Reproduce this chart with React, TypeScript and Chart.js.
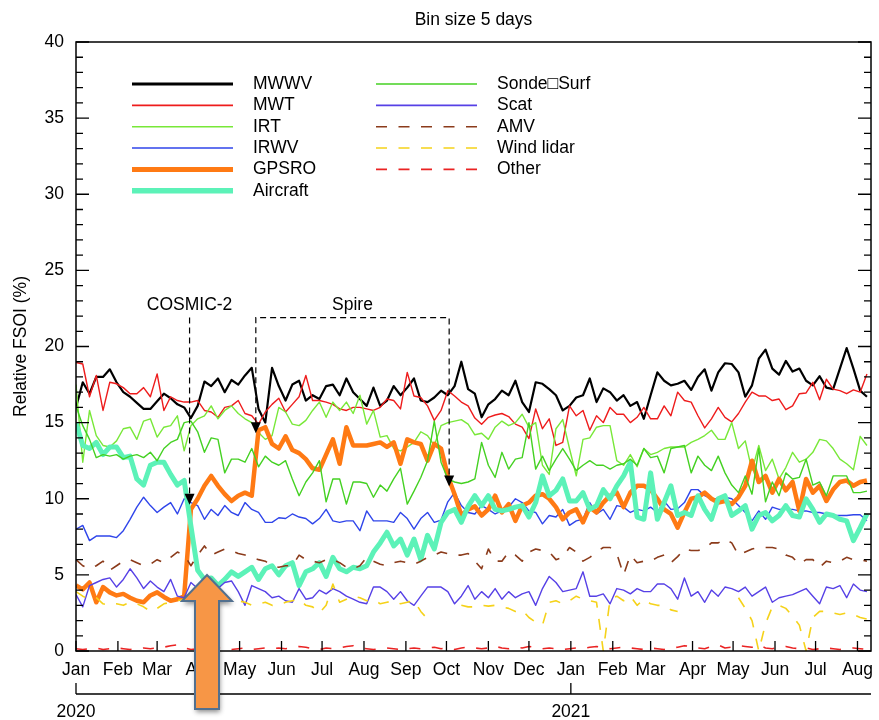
import React, { useEffect, useRef } from "react";
import { Chart, registerables } from "chart.js";

Chart.register(...registerables);

// ---------------- text / axes ----------------
const TITLE = "Bin size 5 days";
const Y_TITLE = "Relative FSOI (%)";
const BIN_DAYS = 5; // one point per 5-day bin, first bin on 1 Jan 2020
const X_MAX_DAY = 588;
const Y_MIN = 0;
const Y_MAX = 40;
const Y_MAJOR = 5;
const Y_MINOR = 1;

const MONTH_LABELS = ["Jan", "Feb", "Mar", "Apr", "May", "Jun", "Jul", "Aug", "Sep", "Oct", "Nov", "Dec",
  "Jan", "Feb", "Mar", "Apr", "May", "Jun", "Jul", "Aug"];
const MONTH_START_DAYS = [0, 31, 60, 91, 121, 152, 182, 213, 244, 274, 305, 335,
  366, 397, 425, 456, 486, 517, 547, 578];
const YEAR_LABELS = ["2020", "2021"];
const YEAR_START_DAYS = [0, 366];

// annotations (days since 1 Jan 2020, FSOI %)
const COSMIC_LABEL = "COSMIC-2";
const COSMIC_DAY = 84;
const SPIRE_LABEL = "Spire";
const SPIRE_DAYS = [133, 276];
const ANNOT_TOP = 21.9;
const ANNOT_TEXT_Y = 22.7;
const COSMIC_TIP = 9.6;
const SPIRE_TIPS = [14.3, 10.8];

// ---------------- series (5-day bins) ----------------
const MWWV = [
  16.0, 17.65, 16.9, 18.0, 18.0, 18.5, 17.65, 17.0, 16.7, 16.3,
  15.9, 15.9, 16.4, 16.9, 16.6, 16.2, 16.0, 15.3, 16.1, 17.7,
  17.4, 17.9, 17.0, 17.8, 17.5, 18.1, 18.6, 15.9, 15.0, 18.6,
  17.4, 16.45, 17.5, 17.75, 16.45, 16.8, 16.55, 17.4, 17.5, 16.8,
  17.9, 17.0, 16.55, 16.1, 17.3, 16.1, 16.45, 17.4, 16.8, 17.3,
  17.9, 16.45, 16.35, 16.65, 17.1, 16.8, 17.4, 19.0, 17.2, 16.9,
  15.35, 16.2, 16.55, 17.1, 16.8, 17.75, 16.35, 15.7, 17.65, 17.55,
  17.2, 16.8, 15.8, 16.1, 16.65, 16.8, 17.9, 16.35, 17.25, 17.0,
  16.45, 16.8, 16.1, 16.35, 15.25, 16.8, 18.3, 17.75, 17.45, 17.55,
  17.75, 17.15, 18.0, 18.5, 17.1, 18.3, 18.9, 18.85, 18.3, 16.7,
  17.45, 19.2, 19.8, 18.55, 18.15, 19.05, 18.35, 18.55, 17.75, 17.45,
  18.05, 17.3, 17.2, 18.55, 19.9, 18.55, 17.1, 16.7,
];
const MWT = [
  18.95, 18.85, 16.7, 18.1, 15.8, 17.65, 17.55, 17.3, 16.9, 16.9,
  17.3, 16.7, 18.2, 15.8, 16.7, 16.45, 16.35, 16.35, 16.45, 15.8,
  15.7, 15.35, 16.0, 16.1, 16.45, 15.6, 15.45, 14.9, 15.7, 16.2,
  16.6, 15.7, 16.2, 16.7, 18.1, 16.45, 16.45, 16.35, 16.2, 15.9,
  15.8, 16.0, 16.0, 15.9, 15.8, 16.0, 16.55, 16.45, 15.9, 18.3,
  16.75, 16.65, 16.1, 15.15, 15.8, 17.1, 16.75, 16.35, 16.1, 15.3,
  14.9, 15.35, 15.5, 15.6, 15.4, 14.9, 14.7, 13.95, 15.9, 14.6,
  15.25, 13.5, 13.7, 16.1, 15.45, 15.8, 14.5, 15.45, 15.0, 16.0,
  15.55, 15.55, 15.0, 15.35, 16.0, 15.25, 15.25, 16.1, 15.45, 17.0,
  16.45, 16.35, 15.45, 14.65, 15.25, 16.0, 15.35, 15.05, 15.6, 16.35,
  17.0, 16.75, 16.75, 16.45, 16.55, 15.85, 16.1, 16.9, 16.95, 17.65,
  16.5, 17.85, 17.2, 17.1, 16.9, 17.15, 17.0, 18.2,
];
const IRT = [
  17.5, 12.4, 15.8, 14.15, 13.5, 13.4, 13.8, 14.6, 14.7, 13.9,
  15.1, 15.25, 14.05, 14.7, 14.8, 15.45, 13.15, 14.8, 15.25, 15.45,
  16.1, 15.25, 15.8, 16.1, 15.6, 15.25, 15.0, 14.35, 13.9, 14.15,
  16.0, 15.7, 14.9, 14.8, 15.15, 15.8, 16.35, 15.35, 16.35, 15.8,
  16.35, 15.6, 16.8, 14.9, 15.8, 14.05, 14.15, 13.3, 13.15, 13.4,
  13.7, 14.4, 14.15, 13.5, 14.8, 15.0, 15.1, 15.2, 14.9, 14.2,
  14.3, 13.9, 14.7, 15.1, 14.8, 15.0, 15.55, 14.7, 15.0, 12.2,
  11.6, 14.6, 15.2, 13.3, 11.5, 13.9, 14.0, 14.7, 14.8, 14.8,
  12.5, 12.2, 12.9, 12.1, 13.3, 12.9, 13.05, 13.3, 13.4, 13.4,
  13.4, 13.7, 13.9, 14.15, 14.5, 13.9, 13.9, 15.0, 13.3, 13.8,
  11.85, 13.5, 11.85, 12.6, 11.3, 12.05, 13.05, 12.4, 12.6, 13.05,
  13.9, 13.8, 13.3, 12.6, 12.3, 11.9, 14.1, 13.5,
];
const IRWV = [
  8.0, 8.25, 7.25, 7.55, 7.55, 7.55, 7.45, 7.9, 8.65, 9.45,
  10.1, 9.55, 9.1, 9.45, 9.75, 9.0, 10.0, 9.75, 9.55, 8.65,
  9.3, 8.9, 9.55, 9.1, 8.9, 9.75, 9.3, 9.1, 8.45, 8.45,
  8.75, 8.7, 9.0, 8.8, 8.7, 8.35, 8.7, 9.3, 8.55, 8.45,
  8.55, 8.55, 7.9, 9.2, 8.55, 8.55, 8.55, 8.45, 9.1, 8.7,
  8.0, 8.7, 9.1, 8.45, 8.6, 9.8, 10.4, 9.55, 9.1, 9.0,
  9.55, 9.3, 9.0, 9.2, 9.45, 10.0, 9.75, 9.2, 9.1, 8.35,
  8.9, 8.8, 9.3, 8.25, 8.55, 8.65, 9.75, 9.0, 9.3, 8.65,
  9.55, 9.45, 9.1, 9.3, 9.2, 9.45, 9.1, 9.85, 9.3, 9.35,
  9.75, 10.6, 10.6, 10.2, 10.0, 10.0, 10.1, 10.0, 9.55, 9.1,
  8.55, 9.2, 8.65, 9.45, 9.3, 9.3, 9.3, 9.2, 9.2, 9.1,
  9.1, 9.0, 8.9, 8.9, 8.9, 8.95, 8.95, 8.55,
];
const GPSRO = [
  4.3, 4.05, 4.5, 3.2, 4.2, 3.85, 3.65, 3.75, 3.5, 3.3,
  3.2, 3.65, 3.85, 3.55, 3.3, 3.4, 3.6, 9.3, 10.0, 10.85,
  11.5, 10.85, 10.3, 9.85, 10.2, 10.4, 10.2, 14.5, 14.7, 13.6,
  13.3, 14.1, 13.2, 13.0, 12.6, 12.0, 11.9, 12.9, 13.9, 12.3,
  14.7, 13.5, 13.5, 13.5, 13.6, 13.7, 13.4, 13.7, 12.3, 13.9,
  13.7, 13.6, 12.5, 13.6, 13.3, 11.5, 10.3, 8.9, 9.3, 9.5,
  8.9, 9.3, 10.2, 9.1, 9.65, 8.55, 9.55, 9.75, 10.2, 10.3,
  10.0, 9.45, 8.65, 9.1, 9.3, 8.45, 9.45, 9.1, 9.75, 10.2,
  10.4, 9.45, 10.4, 10.85, 10.85, 10.6, 10.0, 9.3, 9.0, 8.1,
  9.1, 10.0, 10.1, 10.4, 10.0, 9.75, 9.85, 9.65, 10.1, 10.85,
  12.5, 11.1, 11.5, 10.4, 11.3, 10.55, 11.1, 9.2, 11.3, 10.4,
  10.85, 9.85, 10.6, 11.1, 11.2, 10.85, 11.1, 11.2,
];
const AIRCRAFT = [
  15.0, 13.5, 13.3, 13.7, 12.9, 13.4, 13.4, 12.7, 12.8, 11.3,
  10.9, 12.2, 12.4, 12.4, 11.6, 10.9, 11.2, 8.2, 5.3, 4.7,
  4.8, 4.3, 4.7, 5.2, 4.9, 5.2, 5.5, 4.7, 5.4, 5.6,
  5.0, 5.6, 5.8, 4.3, 5.2, 5.4, 5.8, 4.9, 6.15, 5.4,
  5.2, 5.5, 5.4, 5.6, 6.5, 7.1, 7.8, 6.9, 7.35, 6.3,
  7.35, 6.0, 7.6, 6.7, 8.45, 9.1, 9.3, 8.45, 9.5, 10.2,
  9.55, 10.2, 9.3, 9.2, 9.3, 9.45, 9.55, 8.8, 9.75, 11.5,
  10.2, 10.55, 11.3, 9.85, 9.85, 10.4, 9.3, 9.55, 10.6, 10.0,
  10.85, 11.5, 12.4, 8.8, 8.65, 11.7, 8.65, 9.75, 10.85, 8.9,
  9.1, 8.9, 10.2, 9.3, 8.65, 10.0, 10.2, 8.9, 9.2, 9.55,
  8.0, 8.9, 9.1, 8.55, 8.9, 9.55, 8.9, 8.8, 10.0, 9.3,
  8.45, 9.0, 8.9, 8.65, 8.55, 7.25, 8.1, 9.0,
];
const SONDE_SURF = [
  16.1, 14.8, 13.9, 12.7, 12.9, 12.8, 12.9, 12.6, 12.8, 12.9,
  12.7, 13.05, 12.5, 13.3, 13.7, 13.9, 15.0, 15.1, 14.4, 13.05,
  14.0, 13.9, 11.7, 12.6, 12.6, 12.4, 13.3, 12.1, 12.8, 12.4,
  12.2, 12.5, 11.3, 10.2, 11.1, 11.7, 12.5, 9.8, 11.3, 11.3,
  9.65, 11.1, 11.1, 11.0, 10.1, 10.9, 10.5, 11.3, 12.0, 9.65,
  10.5, 11.4, 12.5, 15.1, 12.4, 11.3, 11.1, 11.0, 11.1, 11.3,
  13.7, 12.2, 11.4, 13.05, 11.95, 12.6, 12.7, 15.0, 11.95, 12.8,
  11.85, 12.6, 13.3, 12.6, 11.85, 12.2, 12.5, 12.2, 12.2, 11.95,
  12.2, 12.3, 12.6, 12.2, 13.3, 12.7, 12.8, 11.7, 13.3, 13.4,
  13.5, 11.7, 12.8, 12.2, 11.85, 12.8, 11.7, 10.9, 10.4, 11.5,
  10.3, 13.3, 9.8, 11.1, 10.2, 11.7, 11.3, 11.4, 12.6, 10.9,
  11.1, 10.2, 11.5, 11.5, 11.5, 10.4, 10.4, 10.5,
];
const SCAT = [
  3.7, 2.9, 4.3, 4.5, 4.7, 4.8, 4.2, 4.7, 5.4, 4.8,
  4.1, 4.6, 4.2, 3.9, 4.7, 3.6, 3.5, 4.5, 4.1, 4.1,
  4.5, 4.1, 4.5, 4.6, 3.9, 3.0, 4.3, 4.1, 3.9, 3.5,
  3.6, 3.3, 3.2, 4.1, 3.4, 3.5, 4.0, 3.75, 4.1, 3.9,
  3.6, 3.4, 3.2, 3.1, 4.2, 4.2, 3.9, 3.4, 3.9, 3.3,
  3.0, 3.6, 4.2, 4.2, 4.2, 3.9, 3.1, 3.6, 4.3, 3.4,
  3.9, 3.5, 4.1, 3.4, 3.9, 3.5, 3.75, 3.9, 3.0, 4.1,
  4.9, 4.5, 3.9, 4.0, 4.1, 5.2, 3.6, 3.6, 3.75, 3.1,
  4.1, 4.0, 3.75, 4.1, 3.9, 3.9, 4.4, 4.4, 4.1, 3.4,
  4.8, 3.6, 3.9, 3.2, 4.0, 3.6, 4.2, 4.1, 3.9, 4.2,
  3.6, 3.9, 4.2, 3.2, 3.5, 3.6, 3.7, 3.9, 4.1, 3.6,
  3.1, 4.2, 4.1, 4.3, 3.5, 4.4, 4.0, 3.9,
];
const AMV = [
  6.0, 5.6, 5.4, 5.6, 5.9, 5.3, 5.6, 5.9, 6.0, 5.8,
  5.6, 5.7, 6.0, 5.8, 6.15, 6.5, 6.3, 5.6, 6.3, 6.9,
  6.3, 6.5, 6.7, 6.6, 6.4, 6.3, 6.15, 6.0, 5.9, 5.6,
  5.5, 5.6, 5.6, 6.3, 6.0, 5.9, 5.8, 6.0, 6.0, 5.8,
  5.5, 5.4, 5.6, 6.15, 5.9, 5.7, 5.6, 5.8, 5.9, 5.8,
  5.7, 5.9, 6.15, 6.3, 6.5, 6.4, 6.3, 6.3, 6.4, 5.9,
  5.4, 6.7, 5.9, 5.9, 6.5, 6.3, 5.9, 6.5, 6.7, 6.6,
  6.5, 6.0, 6.15, 6.8, 6.5, 5.9, 6.15, 6.5, 6.8, 6.8,
  6.4, 5.0, 6.3, 5.8, 5.9, 5.9, 6.15, 6.3, 5.8, 6.2,
  6.7, 6.6, 6.6, 6.7, 7.1, 7.1, 7.35, 7.1, 6.3, 6.5,
  6.7, 6.8, 6.8, 6.8, 6.7, 6.3, 6.15, 5.7, 6.0, 6.0,
  5.5, 5.9, 5.8, 5.9, 6.15, 6.0, 6.0, 5.9,
];
const WIND_LIDAR = [
  3.9, 3.6, 3.4, 3.5, 3.1, 3.0, 3.1, 3.0, 3.2, 3.1,
  2.9, 2.6, 2.8, 3.1, 3.2, 3.3, 3.4, 3.3, 3.5, 3.4,
  3.8, 3.7, 3.6, 3.4, 3.3, 3.2, 3.0, 3.1, 3.2, 3.0,
  3.0, 3.2, 3.3, 3.4, 3.0, 2.9, 2.5, 3.0, 4.4, 3.2,
  3.4, 3.6, 3.5, 3.3, 3.4, 3.1, 3.2, 3.3, 3.1, 3.2,
  3.3, 2.6, 2.1, null, null, null, null, 3.0, 2.9, 2.9,
  3.0, 2.95, 3.0, 2.9, 2.8, 2.6, 2.7, 2.2, 1.9, 1.7,
  3.2, 3.3, 3.1, 3.3, 3.6, 3.4, 3.3, 3.2, 0.0, 3.4,
  3.6, 3.3, 3.6, 3.0, 3.4, 3.1, 3.0, 3.0, 2.7, 2.6,
  null, null, null, null, null, null, null, null, 3.5, 2.8,
  2.0, 0.0, 1.8, 2.9, 3.0, 2.8, 2.3, 1.7, 0.0, 2.2,
  2.6, 2.6, 2.5, 2.4, 2.5, 2.4, 2.2, 2.1,
];
const OTHER = [
  0.15, 0.1, 0.15, 0.2, 0.1, 0.15, 0.2, 0.15, 0.1, 0.15,
  0.2, 0.15, 0.2, 0.25, 0.35, 0.4, 0.2, 0.1, 0.15, 0.1,
  0.15, 0.2, 0.15, 0.1, 0.15, 0.2, 0.1, 0.15, 0.2, 0.15,
  0.2, 0.15, 0.2, 0.3, 0.25, 0.15, 0.1, 0.2, 0.15, 0.2,
  0.3, 0.35, 0.2, 0.15, 0.1, 0.15, 0.2, 0.15, 0.1, 0.15,
  0.2, 0.15, 0.2, 0.25, 0.15, 0.2, 0.1, 0.2, 0.25, 0.2,
  0.15, 0.2, 0.3, 0.2, 0.15, 0.25, 0.2, 0.3, 0.25, 0.15,
  0.2, 0.15, 0.1, 0.15, 0.2, 0.15, 0.25, 0.3, 0.2, 0.15,
  0.2, 0.25, 0.2, 0.15, 0.1, 0.2, 0.15, 0.1, 0.2, 0.25,
  0.35, 0.3, 0.2, 0.15, 0.3, 0.4, 0.2, 0.25, 0.35, 0.3,
  0.25, 0.4, 0.2, 0.15, 0.25, 0.3, 0.2, 0.15, 0.2, 0.1,
  0.15, 0.2, 0.15, 0.1, 0.15, 0.2, 0.15, 0.1,
];

type Series = {
  label: string;
  data: (number | null)[];
  color: string;
  width: number;
  legendWidth: number;
  dash: number[];
};

const DASH = [11, 11.5];

const SERIES: Series[] = [
  { label: "MWWV", data: MWWV, color: "#000000", width: 2.2, legendWidth: 3, dash: [] },
  { label: "MWT", data: MWT, color: "#ee1c1c", width: 1.4, legendWidth: 1.6, dash: [] },
  { label: "IRT", data: IRT, color: "#78e838", width: 1.4, legendWidth: 1.6, dash: [] },
  { label: "IRWV", data: IRWV, color: "#2f45ea", width: 1.4, legendWidth: 1.6, dash: [] },
  { label: "GPSRO", data: GPSRO, color: "#ff7a14", width: 4.5, legendWidth: 5, dash: [] },
  { label: "Aircraft", data: AIRCRAFT, color: "#5cf2b8", width: 5, legendWidth: 5.5, dash: [] },
  { label: "Sonde\u25a1Surf", data: SONDE_SURF, color: "#44d122", width: 1.4, legendWidth: 1.6, dash: [] },
  { label: "Scat", data: SCAT, color: "#5640e6", width: 1.4, legendWidth: 1.8, dash: [] },
  { label: "AMV", data: AMV, color: "#8b3b1b", width: 1.6, legendWidth: 1.6, dash: DASH },
  { label: "Wind lidar", data: WIND_LIDAR, color: "#f5d21a", width: 1.6, legendWidth: 1.6, dash: DASH },
  { label: "Other", data: OTHER, color: "#ea2323", width: 1.6, legendWidth: 1.6, dash: DASH },
];

const FONT = '"Liberation Sans", Arial, Helvetica, "DejaVu Sans", sans-serif';
const FS = 17.5;

const overlayPlugin = {
  id: "overlay",
  afterDatasetsDraw(chart: any) {
    const { ctx, chartArea: a, scales } = chart;
    const xs = scales.x;
    const ys = scales.y;
    ctx.save();
    ctx.setLineDash([]);
    ctx.strokeStyle = "#000";
    ctx.fillStyle = "#000";

    // frame
    ctx.lineWidth = 1.5;
    ctx.strokeRect(a.left, a.top, a.right - a.left, a.bottom - a.top);

    // ticks
    ctx.lineWidth = 1.3;
    ctx.beginPath();
    for (let v = Y_MIN; v <= Y_MAX; v += Y_MINOR) {
      const y = ys.getPixelForValue(v);
      const len = v % Y_MAJOR === 0 ? 13 : 7;
      ctx.moveTo(a.left, y);
      ctx.lineTo(a.left + len, y);
      ctx.moveTo(a.right, y);
      ctx.lineTo(a.right - len, y);
    }
    MONTH_START_DAYS.forEach((d) => {
      const x = xs.getPixelForValue(d);
      ctx.moveTo(x, a.bottom);
      ctx.lineTo(x, a.bottom - 10);
    });
    ctx.stroke();

    // tick labels
    ctx.font = `${FS}px ${FONT}`;
    ctx.textAlign = "right";
    ctx.textBaseline = "middle";
    for (let v = Y_MIN; v <= Y_MAX; v += Y_MAJOR) {
      ctx.fillText(String(v), a.left - 12, ys.getPixelForValue(v));
    }
    ctx.textAlign = "center";
    MONTH_LABELS.forEach((m, i) => {
      ctx.fillText(m, xs.getPixelForValue(MONTH_START_DAYS[i]), a.bottom + 19);
    });

    // year axis
    const yearY = a.bottom + 43;
    ctx.beginPath();
    ctx.moveTo(a.left, yearY);
    ctx.lineTo(a.right, yearY);
    YEAR_START_DAYS.forEach((d) => {
      const x = xs.getPixelForValue(d);
      ctx.moveTo(x, yearY);
      ctx.lineTo(x, yearY - 11);
    });
    ctx.stroke();
    YEAR_LABELS.forEach((t, i) => {
      ctx.fillText(t, xs.getPixelForValue(YEAR_START_DAYS[i]), yearY + 18);
    });

    // title
    ctx.fillText(TITLE, (a.left + a.right) / 2, 20);

    // y title
    ctx.save();
    ctx.translate(21, (a.top + a.bottom) / 2);
    ctx.rotate(-Math.PI / 2);
    ctx.fillText(Y_TITLE, 0, 0);
    ctx.restore();

    // legend
    const cols = [
      { x1: 132, x2: 233, tx: 253, items: [0, 1, 2, 3, 4, 5] },
      { x1: 376, x2: 477, tx: 497, items: [6, 7, 8, 9, 10] },
    ];
    cols.forEach((c) => {
      c.items.forEach((idx, r) => {
        const s = SERIES[idx];
        const y = 84 + r * 21.35;
        ctx.save();
        ctx.strokeStyle = s.color;
        ctx.lineWidth = s.legendWidth;
        ctx.setLineDash(s.dash);
        ctx.beginPath();
        ctx.moveTo(c.x1, y);
        ctx.lineTo(c.x2, y);
        ctx.stroke();
        ctx.restore();
        ctx.textAlign = "left";
        ctx.fillText(s.label, c.tx, y);
      });
    });

    // annotations
    const arrowHead = (x: number, tip: number) => {
      ctx.beginPath();
      ctx.moveTo(x - 5, tip - 11);
      ctx.lineTo(x + 5, tip - 11);
      ctx.lineTo(x, tip);
      ctx.closePath();
      ctx.fill();
    };
    const topY = ys.getPixelForValue(ANNOT_TOP);
    const textY = ys.getPixelForValue(ANNOT_TEXT_Y);
    ctx.lineWidth = 1.2;
    ctx.setLineDash([6, 4]);
    const cx = xs.getPixelForValue(COSMIC_DAY);
    const cTip = ys.getPixelForValue(COSMIC_TIP);
    ctx.beginPath();
    ctx.moveTo(cx, topY);
    ctx.lineTo(cx, cTip - 10);
    ctx.stroke();
    const sx1 = xs.getPixelForValue(SPIRE_DAYS[0]);
    const sx2 = xs.getPixelForValue(SPIRE_DAYS[1]);
    const sTip1 = ys.getPixelForValue(SPIRE_TIPS[0]);
    const sTip2 = ys.getPixelForValue(SPIRE_TIPS[1]);
    ctx.beginPath();
    ctx.moveTo(sx1, sTip1 - 10);
    ctx.lineTo(sx1, topY);
    ctx.lineTo(sx2, topY);
    ctx.lineTo(sx2, sTip2 - 10);
    ctx.stroke();
    ctx.setLineDash([]);
    arrowHead(cx, cTip);
    arrowHead(sx1, sTip1);
    arrowHead(sx2, sTip2);
    ctx.textAlign = "center";
    ctx.fillText(COSMIC_LABEL, cx, textY);
    ctx.fillText(SPIRE_LABEL, (sx1 + sx2) / 2, textY);

    // overlay block arrow
    ctx.save();
    ctx.shadowColor = "rgba(0,0,0,0.45)";
    ctx.shadowBlur = 5;
    ctx.shadowOffsetX = 1;
    ctx.shadowOffsetY = 3;
    ctx.beginPath();
    ctx.moveTo(207, 575);
    ctx.lineTo(232, 601);
    ctx.lineTo(219, 601);
    ctx.lineTo(219, 709);
    ctx.lineTo(195, 709);
    ctx.lineTo(195, 601);
    ctx.lineTo(182, 601);
    ctx.closePath();
    ctx.fillStyle = "#f79646";
    ctx.fill();
    ctx.shadowColor = "transparent";
    ctx.lineWidth = 2;
    ctx.strokeStyle = "#52708f";
    ctx.stroke();
    ctx.restore();

    ctx.restore();
  },
};

export default function App() {
  const ref = useRef<HTMLCanvasElement>(null);
  useEffect(() => {
    const canvas = ref.current;
    if (!canvas) return;
    const chart = new Chart(canvas, {
      type: "line",
      data: {
        datasets: SERIES.map((s, i) => ({
          label: s.label,
          data: s.data.map((v, k) => ({ x: k * BIN_DAYS, y: v })),
          borderColor: s.color,
          backgroundColor: s.color,
          borderWidth: s.width,
          borderDash: s.dash,
          borderJoinStyle: "round",
          borderCapStyle: "butt",
          pointRadius: 0,
          pointHoverRadius: 0,
          fill: false,
          tension: 0,
          spanGaps: false,
          order: SERIES.length - i,
        })) as any,
      },
      options: {
        responsive: false,
        animation: false,
        devicePixelRatio: 1,
        events: [],
        layout: { padding: { left: 76, right: 8, top: 42, bottom: 69 } },
        scales: {
          x: { type: "linear", min: 0, max: X_MAX_DAY, display: false },
          y: { type: "linear", min: Y_MIN, max: Y_MAX, display: false },
        },
        plugins: {
          legend: { display: false },
          tooltip: { enabled: false },
          title: { display: false },
        },
      } as any,
      plugins: [overlayPlugin],
    });
    return () => chart.destroy();
  }, []);
  return (
    <div style={{ position: "fixed", left: 0, top: 0, width: 879, height: 720, background: "#fff" }}>
      <canvas ref={ref} width={879} height={720} style={{ display: "block", width: 879, height: 720 }} />
    </div>
  );
}
